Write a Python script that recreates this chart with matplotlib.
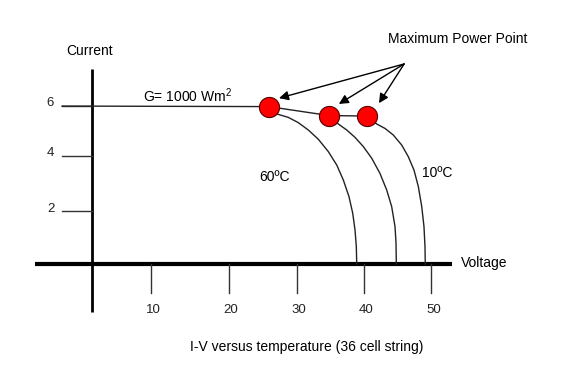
import matplotlib
matplotlib.use("Agg")
import matplotlib.pyplot as plt

plt.rcParams['font.family'] = ['Liberation Sans', 'DejaVu Sans']
plt.rcParams['mathtext.fontset'] = 'custom'
plt.rcParams['mathtext.rm'] = 'Liberation Sans'

# tick marks as drawn in the sketch (positions)
x_ticks = [8.7, 20.1, 30.1, 40.0, 49.9]
x_labels = ['10', '20', '30', '40', '50']
y_ticks = [2.0, 4.1, 6.0]
y_labels = ['2', '4', '6']

# maximum power points
mpp_v = [26.0, 34.85, 40.44]
mpp_i = [5.98, 5.64, 5.62]
isc = 6.0

# I-V curves below the MPP (voltage, current)
v_60 = [26.0, 27.31, 28.87, 30.34, 31.81, 33.28, 34.75, 35.99, 36.96, 37.79, 38.34, 38.68, 38.87, 38.93]
i_60 = [5.98, 5.69, 5.57, 5.37, 5.09, 4.74, 4.27, 3.76, 3.19, 2.56, 1.93, 1.29, 0.66, 0.0]
v_35 = [34.85, 36.22, 37.46, 38.68, 39.90, 41.13, 42.35, 43.34, 44.07, 44.56, 44.71, 44.75]
i_35 = [5.64, 5.32, 5.09, 4.81, 4.46, 4.02, 3.44, 2.81, 2.18, 1.42, 0.79, 0.0]
v_10 = [40.44, 41.87, 43.09, 44.31, 45.54, 46.51, 47.35, 47.99, 48.49, 48.82, 48.97, 49.01]
i_10 = [5.62, 5.32, 5.15, 4.90, 4.52, 4.08, 3.57, 2.94, 2.18, 1.42, 0.66, 0.0]

# where the arrows end, next to each point
tip_v = [27.5, 36.3, 42.2]
tip_i = [6.30, 6.08, 6.11]

fig = plt.figure(figsize=(5.78, 3.74), dpi=100)
ax = fig.add_axes([0, 0, 1, 1])
ax.set_xlim(-13.53, 71.47)
ax.set_ylim(-4.18, 10.03)
ax.axis('off')

# axes lines
ax.plot([-8.4, 52.9], [0, 0], color='black', lw=3, solid_capstyle='butt')
ax.plot([0, 0], [-1.83, 7.41], color='black', lw=2, solid_capstyle='butt')

# ticks
for xt, lab in zip(x_ticks, x_labels):
    ax.plot([xt, xt], [0, -1.1], color='#333333', lw=1)
    ax.text(xt + 0.3, -1.75, lab, ha='center', va='center', fontsize=9.5, color='#222222')
for yt, lab in zip(y_ticks, y_labels):
    ax.plot([-4.4, 0], [yt, yt], color='#333333', lw=1)
    ax.text(-6.1, yt + 0.1, lab, ha='center', va='center', fontsize=9.5, color='#222222')

# flat part and curves
ax.plot([-4.4, mpp_v[0]], [isc, mpp_i[0]], color='#222222', lw=1)
ax.plot(mpp_v, mpp_i, color='#222222', lw=1)
for v, i in [(v_60, i_60), (v_35, i_35), (v_10, i_10)]:
    ax.plot(v, i, color='#222222', lw=1, solid_joinstyle='round')

ax.plot(mpp_v, mpp_i, 'o', ms=14.5, color='red', mec='#550000', mew=0.8, zorder=5)

# arrows to the maximum power points
tail = (45.9, 7.6)
for v, i in zip(tip_v, tip_i):
    ax.annotate('', xy=(v, i), xytext=tail,
                arrowprops=dict(arrowstyle='-|>', color='black', lw=1,
                                mutation_scale=14, shrinkA=0, shrinkB=0))

ax.text(53.8, 8.55, 'Maximum Power Point', ha='center', va='center', fontsize=10)
ax.text(-0.3, 8.1, 'Current', ha='center', va='center', fontsize=10)
ax.text(54.3, 0.05, 'Voltage', ha='left', va='center', fontsize=10)
ax.text(14.1, 6.4, 'G= 1000 Wm$^\\mathregular{2}$', ha='center', va='center', fontsize=10)
ax.text(26.9, 3.3, '60ºC', ha='center', va='center', fontsize=10)
ax.text(50.7, 3.45, '10ºC', ha='center', va='center', fontsize=10)
ax.text(31.6, -3.15, 'I-V versus temperature (36 cell string)', ha='center', va='center', fontsize=10)

fig.savefig('out.png', dpi=100)
